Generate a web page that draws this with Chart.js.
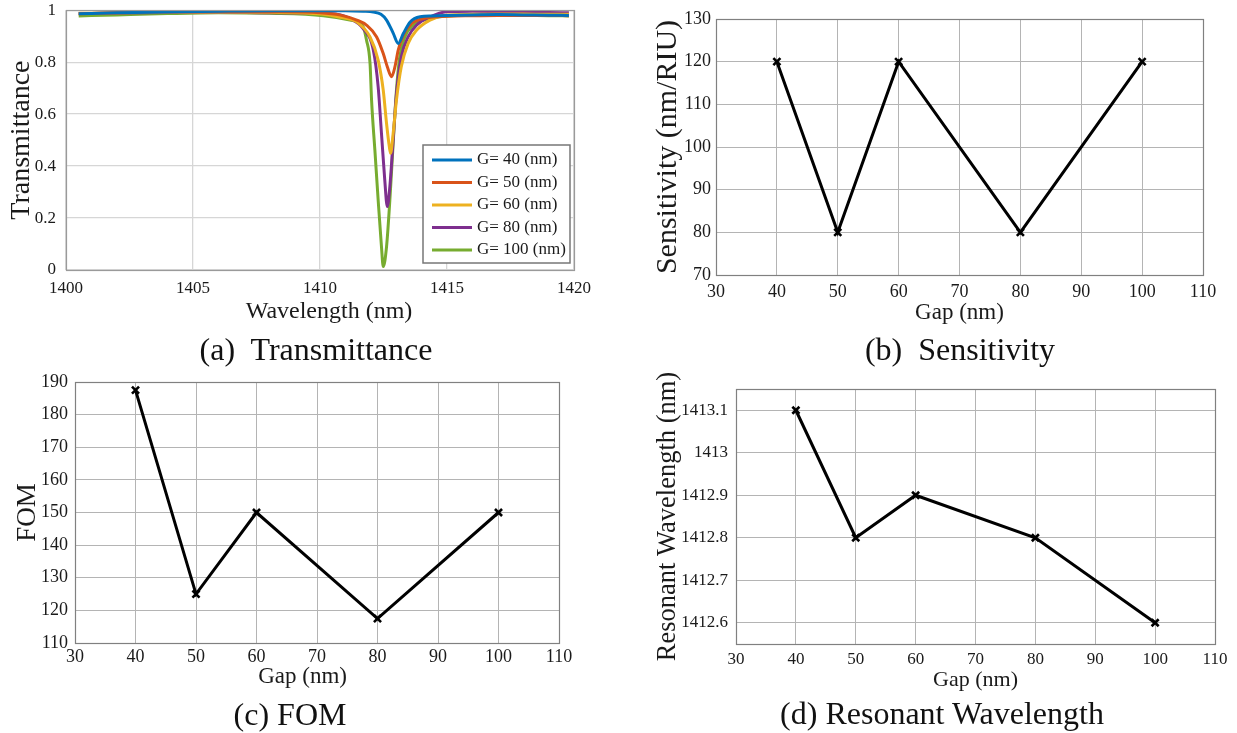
<!DOCTYPE html>
<html>
<head>
<meta charset="utf-8">
<script src="https://cdn.jsdelivr.net/npm/chart.js@4.4.1/dist/chart.umd.min.js"></script>
<style>
  html, body { margin: 0; padding: 0; background: #fff; }
  body { width: 1237px; height: 733px; position: relative; overflow: hidden; }
  canvas { position: absolute; }
  .caption {
    position: absolute; transform: translate(-50%, -50%);
    font-family: "Liberation Serif", "Times New Roman", serif;
    font-size: 32px; color: #111; white-space: pre;
  }
</style>
</head>
<body>
<canvas id="cA" width="610" height="335" style="left:0px;top:0px"></canvas>
<canvas id="cB" width="617" height="335" style="left:620px;top:0px"></canvas>
<canvas id="cC" width="610" height="335" style="left:0px;top:365px"></canvas>
<canvas id="cD" width="617" height="335" style="left:620px;top:365px"></canvas>
<div class="caption" style="left:316px;top:349px">(a)  Transmittance</div>
<div class="caption" style="left:960px;top:349px">(b)  Sensitivity</div>
<div class="caption" style="left:290px;top:714px">(c) FOM</div>
<div class="caption" style="left:942px;top:713px">(d) Resonant Wavelength</div>
<script>
// ---- Transmission spectra for each gap size ----
const seriesLabels = ['G= 40 (nm)', 'G= 50 (nm)', 'G= 60 (nm)', 'G= 80 (nm)', 'G= 100 (nm)'];

const wl40 = [1400.5, 1402, 1404, 1406, 1408, 1410, 1411, 1411.7, 1412.1, 1412.4, 1412.62, 1412.89, 1413.08, 1413.28, 1413.55, 1413.94, 1414.4, 1415, 1416, 1417, 1418, 1419, 1419.8];
const t40  = [0.986, 0.99, 0.993, 0.996, 0.998, 0.998, 0.998, 0.996, 0.993, 0.984, 0.962, 0.91, 0.872, 0.91, 0.955, 0.975, 0.978, 0.98, 0.982, 0.983, 0.982, 0.981, 0.98];

const wl50 = [1400.5, 1402, 1404, 1406, 1408, 1410, 1410.8, 1411.45, 1411.84, 1412.23, 1412.49, 1412.65, 1412.82, 1412.95, 1413.08, 1413.28, 1413.61, 1414.07, 1415, 1416, 1417, 1418, 1419, 1419.8];
const t50  = [0.986, 0.99, 0.993, 0.995, 0.994, 0.99, 0.981, 0.962, 0.942, 0.897, 0.833, 0.782, 0.744, 0.782, 0.846, 0.904, 0.949, 0.968, 0.977, 0.979, 0.98, 0.98, 0.98, 0.979];

const wl60 = [1400.5, 1402, 1404, 1406, 1408, 1410.05, 1410.8, 1411.44, 1411.97, 1412.29, 1412.49, 1412.62, 1412.73, 1412.78, 1412.88, 1413.01, 1413.2, 1413.47, 1413.8, 1414.33, 1414.98, 1416, 1417, 1418, 1419, 1419.8];
const t60  = [0.988, 0.99, 0.992, 0.993, 0.992, 0.985, 0.973, 0.955, 0.897, 0.808, 0.692, 0.564, 0.474, 0.449, 0.526, 0.654, 0.782, 0.872, 0.923, 0.962, 0.981, 0.984, 0.985, 0.985, 0.984, 0.984];

const wl80 = [1400.5, 1402, 1404, 1406, 1408, 1410.39, 1411.18, 1411.7, 1412.1, 1412.29, 1412.42, 1412.55, 1412.65, 1412.75, 1412.88, 1413.01, 1413.2, 1413.47, 1413.8, 1414.33, 1414.98, 1416, 1417, 1418, 1419, 1419.8];
const t80  = [0.987, 0.989, 0.991, 0.992, 0.99, 0.987, 0.968, 0.929, 0.846, 0.705, 0.526, 0.346, 0.244, 0.321, 0.5, 0.679, 0.82, 0.897, 0.942, 0.974, 0.994, 0.996, 0.995, 0.993, 0.991, 0.99];

const wl100 = [1400.5, 1402, 1404, 1406, 1408, 1410.13, 1411.18, 1411.7, 1411.83, 1411.97, 1412.03, 1412.16, 1412.29, 1412.42, 1412.49, 1412.62, 1412.75, 1412.88, 1413.01, 1413.14, 1413.34, 1413.67, 1414.33, 1415.6, 1417, 1418, 1419, 1419.8];
const t100  = [0.978, 0.982, 0.987, 0.99, 0.988, 0.979, 0.962, 0.936, 0.885, 0.795, 0.654, 0.462, 0.269, 0.09, 0.013, 0.09, 0.269, 0.487, 0.692, 0.82, 0.897, 0.942, 0.968, 0.981, 0.982, 0.981, 0.979, 0.978];

const wavelengthTicks = [1400, 1405, 1410, 1415, 1420];
const transmittanceTicks = [0, 0.2, 0.4, 0.6, 0.8, 1];

// ---- Sensor figures versus gap ----
const gap = [40, 50, 60, 80, 100];
const sensitivity = [120, 80, 120, 80, 120];
const fom = [187.5, 125, 150, 117.5, 150];
const resonantWavelength = [1413.1, 1412.8, 1412.9, 1412.8, 1412.6];

const gapTicks = [30, 40, 50, 60, 70, 80, 90, 100, 110];
const sensitivityTicks = [70, 80, 90, 100, 110, 120, 130];
const fomTicks = [110, 120, 130, 140, 150, 160, 170, 180, 190];
const resonanceTicks = [1412.6, 1412.7, 1412.8, 1412.9, 1413, 1413.1];

// ---- styling ----
const SERIF = '"Liberation Serif", "Times New Roman", serif';
const TEXT = '#1a1a1a';
const lineColors = ['#0072BD', '#D95319', '#EDB120', '#7E2F8E', '#77AC30'];

const fmt = v => String(Math.round(v * 10) / 10);
const fixedTicks = list => axis => { axis.ticks = list.map(v => ({ value: v })); };

// Grid for a value axis: the label gap comes from an invisible tick mark
const yGrid = (color, width, gapPx) => ({
  color, lineWidth: width, drawTicks: true, tickLength: gapPx, tickColor: 'rgba(0,0,0,0)'
});

// Stroke a full frame around the plotting area
const framePlugin = {
  id: 'frame',
  afterDatasetsDraw(chart, args, opts) {
    const { ctx, chartArea: a } = chart;
    ctx.save();
    ctx.strokeStyle = opts.color || '#888';
    ctx.lineWidth = opts.width || 1;
    ctx.strokeRect(Math.round(a.left) + 0.5, Math.round(a.top) + 0.5,
                   Math.round(a.right - a.left), Math.round(a.bottom - a.top));
    ctx.restore();
  }
};

// Boxed legend in the lower right corner of the plotting area
const boxLegendPlugin = {
  id: 'boxLegend',
  afterDraw(chart, args, opts) {
    if (!opts.enabled) return;
    const { ctx, chartArea: a } = chart;
    const w = 147, h = 118;
    const x0 = a.right - 4 - w, y0 = a.bottom - 7 - h;
    ctx.save();
    ctx.fillStyle = '#fff';
    ctx.fillRect(x0, y0, w, h);
    ctx.strokeStyle = '#777';
    ctx.lineWidth = 1.5;
    ctx.strokeRect(x0, y0, w, h);
    ctx.font = '17px ' + SERIF;
    ctx.textBaseline = 'middle';
    chart.data.datasets.forEach((ds, i) => {
      const y = y0 + 15 + i * 22.5;
      ctx.strokeStyle = ds.borderColor;
      ctx.lineWidth = 3;
      ctx.beginPath();
      ctx.moveTo(x0 + 9, y);
      ctx.lineTo(x0 + 49, y);
      ctx.stroke();
      ctx.fillStyle = TEXT;
      ctx.fillText(ds.label, x0 + 54, y);
    });
    ctx.restore();
  }
};

Chart.register(framePlugin, boxLegendPlugin);

function pairs(xs, ys) { return xs.map((x, i) => ({ x, y: ys[i] })); }

// ---------- (a) Transmittance spectra ----------
const spectra = [[wl40, t40], [wl50, t50], [wl60, t60], [wl80, t80], [wl100, t100]];
new Chart(document.getElementById('cA'), {
  type: 'scatter',
  data: {
    datasets: spectra.map(([xs, ys], i) => ({
      label: seriesLabels[i],
      data: pairs(xs, ys),
      showLine: true,
      borderColor: lineColors[i],
      backgroundColor: lineColors[i],
      borderWidth: 3,
      pointRadius: 0,
      cubicInterpolationMode: 'monotone'
    }))
  },
  options: {
    responsive: false, animation: false, devicePixelRatio: 1,
    layout: { padding: { top: 10, right: 36, left: 0, bottom: 0 } },
    plugins: {
      legend: { display: false }, tooltip: { enabled: false },
      frame: { color: '#9a9a9a', width: 1.2 },
      boxLegend: { enabled: true }
    },
    scales: {
      x: {
        type: 'linear', min: 1400, max: 1420,
        afterBuildTicks: fixedTicks(wavelengthTicks),
        afterFit: s => { s.height = 65; },
        grid: { color: '#d6d6d6', lineWidth: 1.3, drawTicks: false },
        border: { display: false },
        ticks: { callback: fmt, color: TEXT, padding: 8, maxRotation: 0, font: { family: SERIF, size: 17 } },
        title: { display: true, text: '   Wavelength (nm)', color: TEXT, padding: { top: 0, bottom: 9 }, font: { family: SERIF, size: 24 } }
      },
      y: {
        min: 0, max: 1,
        afterBuildTicks: fixedTicks(transmittanceTicks),
        afterFit: s => { s.width = 66; },
        grid: yGrid('#d6d6d6', 1.3, 10),
        border: { display: false },
        ticks: { callback: fmt, color: TEXT, padding: 0, font: { family: SERIF, size: 17 } },
        title: { display: true, text: 'Transmittance', color: TEXT, padding: { top: 5, bottom: 0 }, font: { family: SERIF, size: 28 } }
      }
    }
  }
});

// ---------- shared builder for the gap plots ----------
function gapChart(id, values, cfg) {
  return new Chart(document.getElementById(id), {
    type: 'line',
    data: {
      datasets: [{
        label: cfg.yTitle,
        data: pairs(gap, values),
        borderColor: '#000',
        backgroundColor: '#000',
        borderWidth: 3,
        pointStyle: 'crossRot',
        pointRadius: 5,
        pointBorderWidth: 2.6,
        pointBorderColor: '#000',
        tension: 0
      }]
    },
    options: {
      responsive: false, animation: false, devicePixelRatio: 1,
      layout: { padding: { top: cfg.padTop, right: cfg.padRight, left: 0, bottom: 0 } },
      plugins: {
        legend: { display: false }, tooltip: { enabled: false },
        frame: { color: '#808080', width: 1.2 },
        boxLegend: { enabled: false }
      },
      scales: {
        x: {
          type: 'linear', min: 30, max: 110,
          afterBuildTicks: fixedTicks(gapTicks),
          afterFit: s => { s.height = cfg.xHeight; },
          grid: { color: '#b4b4b4', lineWidth: 1, drawTicks: false },
          border: { display: false },
          ticks: { callback: fmt, color: TEXT, padding: cfg.xTickPad, maxRotation: 0, font: { family: SERIF, size: cfg.tickSize } },
          title: { display: true, text: cfg.xTitle, color: TEXT, padding: { top: 0, bottom: cfg.xTitlePad }, font: { family: SERIF, size: cfg.xTitleSize } }
        },
        y: {
          type: 'linear', min: cfg.yMin, max: cfg.yMax,
          afterBuildTicks: fixedTicks(cfg.yTicks),
          afterFit: s => { s.width = cfg.yWidth; },
          grid: yGrid('#b4b4b4', 1, cfg.yTickPad),
          border: { display: false },
          ticks: { callback: fmt, color: TEXT, padding: 0, font: { family: SERIF, size: cfg.yTickSize || cfg.tickSize } },
          title: { display: true, text: cfg.yTitle, color: TEXT, padding: { top: cfg.yTitlePad, bottom: 0 }, font: { family: SERIF, size: cfg.yTitleSize } }
        }
      }
    }
  });
}

// ---------- (b) Sensitivity ----------
gapChart('cB', sensitivity, {
  yTitle: 'Sensitivity (nm/RIU)', xTitle: 'Gap (nm)', yMin: 70, yMax: 130, yTicks: sensitivityTicks,
  padTop: 19, padRight: 34, xHeight: 60, yWidth: 96,
  tickSize: 18, xTickPad: 6, yTickPad: 5,
  xTitleSize: 23, xTitlePad: 8, yTitleSize: 30, yTitlePad: 30
});

// ---------- (c) FOM ----------
gapChart('cC', fom, {
  yTitle: 'FOM', xTitle: 'Gap (nm)     ', yMin: 110, yMax: 190, yTicks: fomTicks,
  padTop: 17, padRight: 51, xHeight: 57, yWidth: 75,
  tickSize: 18, xTickPad: 3, yTickPad: 7,
  xTitleSize: 23, xTitlePad: 9, yTitleSize: 27, yTitlePad: 12
});

// ---------- (d) Resonant wavelength ----------
gapChart('cD', resonantWavelength, {
  yTitle: 'Resonant Wavelength (nm)', xTitle: 'Gap (nm)', yMin: 1412.55, yMax: 1413.15, yTicks: resonanceTicks,
  padTop: 24, padRight: 22, xHeight: 56, yWidth: 116,
  tickSize: 17, xTickPad: 5, yTickPad: 8,
  xTitleSize: 22, xTitlePad: 7, yTitleSize: 26.5, yTitlePad: 32
});
</script>
</body>
</html>
